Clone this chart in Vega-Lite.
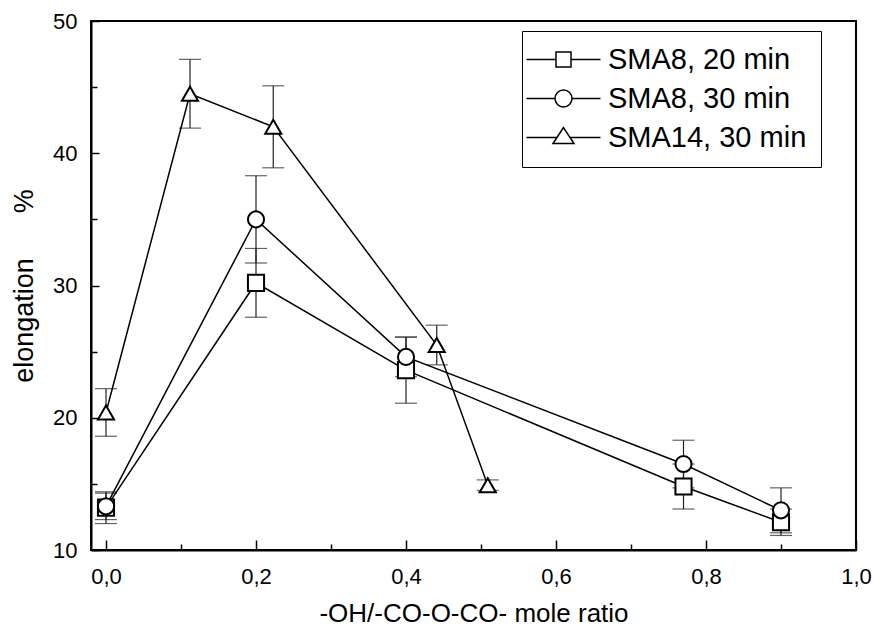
{
  "$schema": "https://vega.github.io/schema/vega-lite/v6.json",
  "width": 765,
  "height": 529,
  "autosize": {"type": "none"},
  "padding": {"left": 91, "top": 21, "right": 17, "bottom": 84},
  "background": "white",
  "config": {
    "view": {"stroke": "black", "strokeWidth": 2},
    "font": "Liberation Sans",
    "axis": {
      "domainColor": "black", "domainWidth": 2, "tickColor": "black", "tickWidth": 1.5,
      "labelFont": "Liberation Sans", "labelFontSize": 22, "labelColor": "black",
      "titleFont": "Liberation Sans", "titleFontWeight": "normal", "titleColor": "black",
      "grid": false
    }
  },
  "data": {
    "values": [
      {"series": "SMA8, 20 min", "x": 0.0, "y": 13.2, "err": 1.2},
      {"series": "SMA8, 20 min", "x": 0.2, "y": 30.2, "err": 2.6},
      {"series": "SMA8, 20 min", "x": 0.4, "y": 23.6, "err": 2.5},
      {"series": "SMA8, 20 min", "x": 0.77, "y": 14.8, "err": 1.7},
      {"series": "SMA8, 20 min", "x": 0.9, "y": 12.1, "err": 1.0},
      {"series": "SMA8, 30 min", "x": 0.0, "y": 13.3, "err": 1.0},
      {"series": "SMA8, 30 min", "x": 0.2, "y": 35.0, "err": 3.3},
      {"series": "SMA8, 30 min", "x": 0.4, "y": 24.6, "err": 1.5},
      {"series": "SMA8, 30 min", "x": 0.77, "y": 16.5, "err": 1.8},
      {"series": "SMA8, 30 min", "x": 0.9, "y": 13.0, "err": 1.7},
      {"series": "SMA14, 30 min", "x": 0.0, "y": 20.4, "err": 1.8},
      {"series": "SMA14, 30 min", "x": 0.112, "y": 44.5, "err": 2.6},
      {"series": "SMA14, 30 min", "x": 0.223, "y": 42.0, "err": 3.1},
      {"series": "SMA14, 30 min", "x": 0.441, "y": 25.5, "err": 1.5},
      {"series": "SMA14, 30 min", "x": 0.509, "y": 14.9, "err": 0.4}
    ]
  },
  "encoding": {
    "x": {
      "field": "x", "type": "quantitative",
      "scale": {"domain": [-0.02, 1.0], "nice": false, "zero": false},
      "axis": {
        "title": "-OH/-CO-O-CO- mole ratio",
        "titleFontSize": 26,
        "values": [0, 0.1, 0.2, 0.3, 0.4, 0.5, 0.6, 0.7, 0.8, 0.9, 1.0],
        "labelExpr": "round(datum.value*10) % 2 == 0 ? replace(format(datum.value, '.1f'), '.', ',') : ''",
        "tickSize": {"condition": {"test": "round(datum.value*10) % 2 == 0", "value": -10}, "value": -6},
        "labelPadding": 26,
        "titlePadding": 9,
        "labelFlush": false,
        "labelOverlap": false
      }
    },
    "y": {
      "field": "y", "type": "quantitative",
      "scale": {"domain": [10, 50], "nice": false, "zero": false},
      "axis": {
        "title": "elongation\u00a0\u00a0\u00a0\u00a0\u00a0\u00a0%",
        "titleFontSize": 27,
        "values": [10, 15, 20, 25, 30, 35, 40, 45, 50],
        "labelExpr": "datum.value % 10 == 0 ? datum.value : ''",
        "tickSize": {"condition": {"test": "datum.value % 10 == 0", "value": -8}, "value": -6},
        "labelPadding": 22,
        "titlePadding": 14,
        "labelFlush": false,
        "labelOverlap": false
      }
    }
  },
  "resolve": {"scale": {"shape": "independent"}, "legend": {"shape": "independent"}},
  "layer": [
    {
      "mark": {"type": "errorbar", "ticks": {"size": 22}, "color": "#222", "thickness": 1.2},
      "encoding": {
        "y": {"field": "y", "type": "quantitative"},
        "yError": {"field": "err"},
        "detail": {"field": "series"}
      }
    },
    {
      "mark": {"type": "line", "color": "black", "strokeWidth": 1.5},
      "encoding": {
        "detail": {"field": "series"},
        "order": {"field": "x"}
      }
    },
    {
      "mark": {"type": "point", "filled": true, "fill": "white", "stroke": "black", "strokeWidth": 2, "opacity": 1, "size": 260},
      "encoding": {
        "shape": {
          "field": "series", "type": "nominal",
          "scale": {"domain": ["SMA8, 20 min", "SMA8, 30 min", "SMA14, 30 min"], "range": ["square", "circle", "triangle-up"]},
          "legend": null
        }
      }
    },
    {
      "mark": {"type": "point", "filled": false, "color": "black", "strokeWidth": 1.5, "opacity": 0, "size": 400},
      "encoding": {
        "shape": {
          "field": "series", "type": "nominal",
          "scale": {
            "domain": ["SMA8, 20 min", "SMA8, 30 min", "SMA14, 30 min"],
            "range": [
              "M-3.7,0H-0.75M0.75,0H3.7M-0.75,-0.75H0.75V0.75H-0.75Z",
              "M-3.7,0H-0.85M0.85,0H3.7M-0.85,0A0.85,0.85,0,1,0,0.85,0A0.85,0.85,0,1,0,-0.85,0Z",
              "M-3.7,0H-0.66M0.66,0H3.7M0,-1L-1.05,0.6L1.05,0.6Z"
            ]
          },
          "legend": {
            "title": "\u00a0\u00a0\u00a0",
            "titleOrient": "right",
            "titleFontSize": 29,
            "titlePadding": 0,
            "orient": "none",
            "legendX": 431,
            "legendY": 10,
            "padding": 14,
            "strokeColor": "black",
            "fillColor": "white",
            "labelFont": "Liberation Sans",
            "labelFontSize": 29,
            "labelColor": "black",
            "labelLimit": 500,
            "labelOffset": 30,
            "symbolOffset": 13,
            "rowPadding": 9,
            "symbolSize": 400,
            "symbolStrokeWidth": 1.5,
            "symbolStrokeColor": "black",
            "symbolFillColor": "transparent",
            "symbolOpacity": 1
          }
        }
      }
    }
  ]
}
